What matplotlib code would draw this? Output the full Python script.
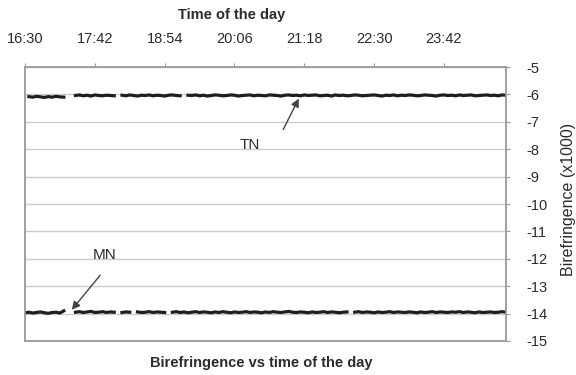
import matplotlib
matplotlib.use("Agg")
import matplotlib.pyplot as plt
import numpy as np

nan = np.nan

# sample grid: minutes after 16:30, every 4 min
minutes = np.arange(0, 500, 4)

# birefringence (x1000), TN sample
tn = [nan, -6.08, -6.10, -6.07, -6.09, -6.11, -6.08, -6.10, -6.07, -6.09,
      -6.10, nan, nan, -6.04, -6.02, -6.05, -6.03, -6.06, -6.02, -6.04,
      -6.05, -6.03, -6.04, -6.05, nan, -6.03, -6.05, -6.02, -6.04, -6.06,
      -6.03, -6.04, -6.02, -6.05, -6.03, -6.04, -6.06, -6.03, -6.02, -6.04,
      -6.05, nan, -6.03, -6.04, -6.02, -6.05, -6.03, -6.06, -6.04, -6.02,
      -6.03, -6.05, -6.04, -6.02, -6.03, -6.06, -6.04, -6.03, -6.02, -6.05,
      -6.03, -6.04, -6.05, -6.02, -6.03, -6.04, -6.06, -6.03, -6.02, -6.04,
      -6.03, -6.05, -6.02, -6.04, -6.03, -6.02, -6.05, -6.04, -6.03, -6.06,
      -6.02, -6.04, -6.03, -6.05, -6.04, -6.02, -6.03, -6.05, -6.04, -6.03,
      -6.02, -6.04, -6.06, -6.03, -6.04, -6.02, -6.05, -6.03, -6.04, -6.02,
      -6.03, -6.05, -6.04, -6.02, -6.03, -6.04, -6.06, -6.03, -6.02, -6.04,
      -6.03, -6.05, -6.02, -6.04, -6.03, -6.02, -6.05, -6.04, -6.03, -6.02,
      -6.04, -6.03, -6.05, -6.02, -6.03]

# birefringence (x1000), MN sample
mn = [-13.97, -13.95, -13.98, -13.96, -13.94, -13.97, -13.99, -13.96, -13.95, -13.98,
      -13.90, nan, nan, -13.95, -13.93, -13.96, -13.94, -13.92, -13.96, -13.95,
      -13.93, -13.96, -13.94, -13.95, nan, -13.96, -13.94, -13.95, nan, -13.94,
      -13.96, -13.95, -13.93, -13.96, -13.94, -13.95, -13.96, nan, -13.95, -13.93,
      -13.96, -13.94, -13.97, -13.95, -13.93, -13.96, -13.94, -13.95, -13.97, -13.94,
      -13.96, -13.93, -13.95, -13.97, -13.94, -13.96, -13.95, -13.93, -13.96, -13.94,
      -13.95, -13.97, -13.94, -13.96, -13.93, -13.95, -13.96, -13.94, -13.92, -13.95,
      -13.96, -13.94, -13.95, -13.97, -13.94, -13.96, -13.95, -13.93, -13.96, -13.94,
      -13.95, -13.97, -13.95, -13.94, nan, -13.95, -13.93, -13.96, -13.94, -13.95,
      -13.97, -13.94, -13.96, -13.95, -13.93, -13.96, -13.94, -13.95, -13.96, -13.94,
      -13.95, -13.97, -13.94, -13.96, -13.95, -13.93, -13.96, -13.94, -13.95, -13.96,
      -13.94, -13.95, -13.93, -13.96, -13.94, -13.95, -13.97, -13.94, -13.96, -13.95,
      -13.94, -13.96, -13.95, -13.93, -13.95]

tick_minutes = [0, 72, 144, 216, 288, 360, 432]
tick_labels = ["16:30", "17:42", "18:54", "20:06", "21:18", "22:30", "23:42"]
y_ticks = list(range(-15, -4))

plt.rcParams['font.family'] = ['Liberation Sans', 'DejaVu Sans']
plt.rcParams['axes.unicode_minus'] = False

txt = '#2b2b2b'
fig = plt.figure(figsize=(5.76, 3.75), dpi=100)
ax = fig.add_axes([0.0434, 0.0907, 0.8351, 0.7306])

ax.plot(minutes, tn, color='#1e1e1e', lw=2.3)
ax.plot(minutes, mn, color='#1e1e1e', lw=2.3)

ax.set_xlim(0, 496)
ax.set_ylim(-15, -5)
ax.set_xticks(tick_minutes)
ax.set_xticklabels(tick_labels)
ax.set_yticks(y_ticks)
ax.xaxis.tick_top()
ax.yaxis.tick_right()
ax.tick_params(axis='x', length=3, pad=12, labelsize=10.5, labelcolor=txt, color='#999999')
ax.tick_params(axis='y', length=3, pad=12, labelsize=10.5, labelcolor=txt, color='#999999')
for lab in ax.get_yticklabels():
    lab.set_horizontalalignment('left')
ax.grid(axis='y', color='#cccccc', lw=1)
ax.set_axisbelow(True)
for s in ax.spines.values():
    s.set_color('#999999')
    s.set_linewidth(1.3)

# labels for the two curves
ax.annotate('', xy=(46.4, -13.94), xytext=(79.4, -12.52),
            arrowprops=dict(arrowstyle='-|>', color='#444444', lw=1, mutation_scale=12))
ax.text(82.5, -11.86, 'MN', fontsize=11, color=txt, ha='center', va='center')
ax.annotate('', xy=(283.6, -6.06), xytext=(265, -7.37),
            arrowprops=dict(arrowstyle='-|>', color='#444444', lw=1, mutation_scale=12))
ax.text(232, -7.85, 'TN', fontsize=11, color=txt, ha='center', va='center')

fig.text(232 / 576, 1 - 15 / 375, 'Time of the day', fontsize=10.5, fontweight='bold',
         color=txt, ha='center', va='center')
fig.text(261 / 576, 1 - 363 / 375, 'Birefringence vs time of the day', fontsize=10.5,
         fontweight='bold', color=txt, ha='center', va='center')
fig.text(568 / 576, 1 - 199 / 375, 'Birefringence (x1000)', fontsize=11.5, rotation=90,
         color=txt, ha='center', va='center')

fig.savefig('out.png', dpi=100)
